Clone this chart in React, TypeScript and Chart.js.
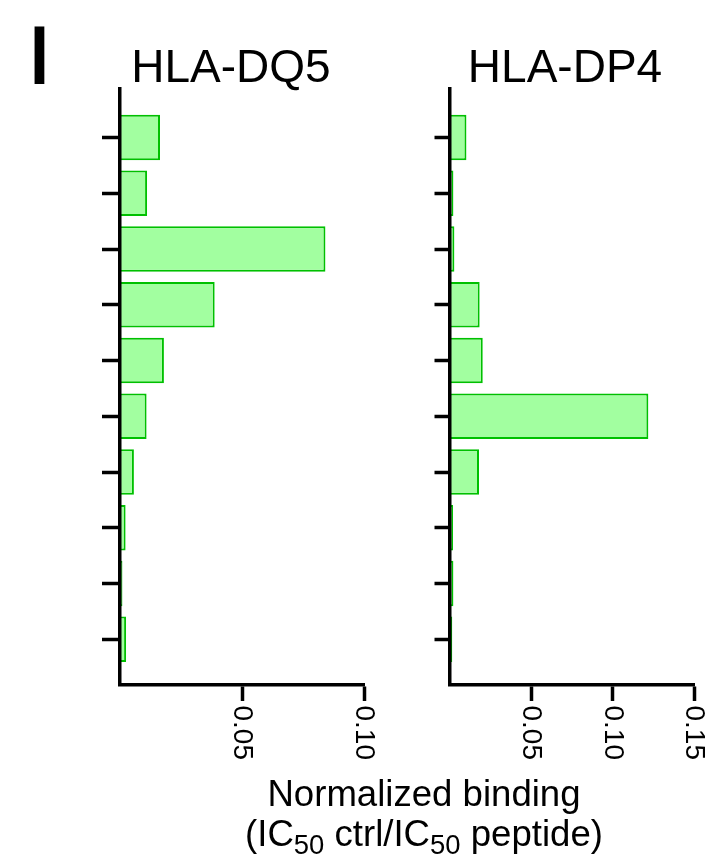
import React, { useEffect, useRef } from "react";
import { Chart, registerables } from "chart.js";

Chart.register(...registerables);

// ---- data ----
const categories = ["1", "2", "3", "4", "5", "6", "7", "8", "9", "10"];
const dq5Values = [0.0164, 0.0111, 0.0842, 0.0388, 0.018, 0.0109, 0.0057, 0.0023, 0.001, 0.0025];
const dp4Values = [0.0104, 0.0024, 0.003, 0.0185, 0.0204, 0.122, 0.0181, 0.0022, 0.0024, 0.0017];
const dq5Ticks = [0.05, 0.1];
const dp4Ticks = [0.05, 0.1, 0.15];
const dq5Max = 0.1;
const dp4Max = 0.15;

const FONT = '"Liberation Sans", Arial, Helvetica, sans-serif';

const rotatedTickLabels = {
  id: "rotatedTickLabels",
  afterDraw(chart: any) {
    const s = chart.scales.x;
    const ctx = chart.ctx;
    ctx.save();
    ctx.font = `28px ${FONT}`;
    ctx.fillStyle = "#000";
    ctx.textAlign = "left";
    ctx.textBaseline = "middle";
    s.ticks.forEach((t: any) => {
      const x = s.getPixelForValue(t.value);
      ctx.save();
      ctx.translate(x, s.top + 20.5);
      ctx.rotate(Math.PI / 2);
      ctx.fillText(Number(t.value).toFixed(2), 0, 0);
      ctx.restore();
    });
    ctx.restore();
  },
};

type PanelProps = {
  title: string;
  values: number[];
  ticks: number[];
  max: number;
  left: number;
  width: number;
  padLeft: number;
  padRight: number;
  yWidth: number;
  yTickLen: number;
};

function Panel(p: PanelProps) {
  const ref = useRef<HTMLCanvasElement | null>(null);
  useEffect(() => {
    if (!ref.current) return;
    const chart = new Chart(ref.current, {
      type: "bar",
      data: {
        datasets: [
          {
            data: p.values.map((v, i) => ({ x: v, y: i })),
            backgroundColor: "#a2ffa0",
            borderColor: "#00c000",
            borderWidth: 2,
            borderSkipped: "start",
            barPercentage: 0.815,
            categoryPercentage: 1,
          },
        ],
      },
      options: {
        indexAxis: "y",
        animation: false,
        responsive: false,
        devicePixelRatio: 1,
        events: [],
        layout: { padding: { left: p.padLeft, right: p.padRight, top: 50.6, bottom: 0 } },
        plugins: {
          legend: { display: false },
          tooltip: { enabled: false },
          title: {
            display: true,
            text: p.title,
            color: "#000",
            font: { family: FONT, size: 46, weight: "normal", lineHeight: 0.8 },
            padding: { top: 0, bottom: 1.6 },
          },
        },
        scales: {
          y: {
            type: "linear",
            reverse: true,
            offset: false,
            min: -0.87,
            max: 9.82,
            afterBuildTicks: (s: any) => {
              s.ticks = categories.map((_, i) => ({ value: i }));
            },
            ticks: { display: false },
            grid: {
              display: true,
              offset: false,
              drawOnChartArea: false,
              drawTicks: true,
              tickLength: p.yTickLen,
              tickWidth: 3.5,
              tickColor: "#000",
              z: 1,
            },
            border: { display: true, color: "#000", width: 3.5, z: 1 },
            afterFit: (s: any) => {
              s.width = p.yWidth;
              s.paddingTop = 0;
              s.paddingBottom = 0;
            },
          },
          x: {
            type: "linear",
            min: 0,
            max: p.max,
            offset: false,
            afterBuildTicks: (s: any) => {
              s.ticks = p.ticks.map((v) => ({ value: v }));
            },
            ticks: { display: false },
            grid: {
              display: true,
              offset: false,
              drawOnChartArea: false,
              drawTicks: true,
              tickLength: 16,
              tickWidth: 3.5,
              tickColor: "#000",
              z: 1,
            },
            border: { display: true, color: "#000", width: 3.5, z: 1 },
            afterFit: (s: any) => {
              s.height = 90;
              s.paddingLeft = 0;
              s.paddingRight = 0;
            },
          },
        },
      } as any,
      plugins: [rotatedTickLabels],
    });
    return () => chart.destroy();
  }, []);
  return (
    <canvas
      ref={ref}
      width={p.width}
      height={775}
      style={{ position: "absolute", left: p.left, top: 0, width: p.width, height: 775, display: "block" }}
    />
  );
}

const subStyle: React.CSSProperties = {
  fontSize: "0.75em",
  position: "relative",
  top: "0.3em",
};

export default function App() {
  return (
    <div
      style={{
        position: "absolute",
        left: 0,
        top: 0,
        width: 719,
        height: 857,
        overflow: "hidden",
        background: "#fff",
        fontFamily: FONT,
        color: "#000",
      }}
    >
      <div
        style={{
          position: "absolute",
          left: 29.6,
          top: 12.9,
          fontSize: 84,
          lineHeight: "84px",
          fontWeight: "bold",
          transform: "scaleX(0.81)",
          transformOrigin: "0 0",
        }}
      >
        I
      </div>
      <Panel
        title="HLA-DQ5"
        values={dq5Values}
        ticks={dq5Ticks}
        max={dq5Max}
        left={60}
        width={344}
        padLeft={38}
        padRight={40}
        yWidth={22}
        yTickLen={18}
      />
      <Panel
        title="HLA-DP4"
        values={dp4Values}
        ticks={dp4Ticks}
        max={dp4Max}
        left={420}
        width={294}
        padLeft={16}
        padRight={20}
        yWidth={13.5}
        yTickLen={15}
      />
      <div
        style={{
          position: "absolute",
          left: 124,
          top: 774,
          width: 600,
          textAlign: "center",
          fontSize: 36.6,
          lineHeight: "40px",
          whiteSpace: "nowrap",
        }}
      >
        <div>Normalized binding</div>
        <div>
          (IC<span style={subStyle}>50</span> ctrl/IC<span style={subStyle}>50</span> peptide)
        </div>
      </div>
    </div>
  );
}
